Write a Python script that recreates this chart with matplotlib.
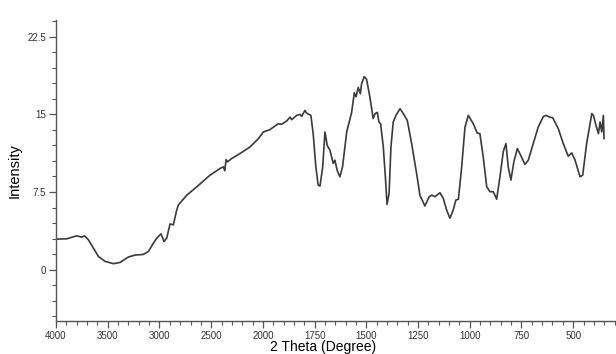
import numpy as np
import matplotlib.pyplot as plt
from matplotlib.ticker import FixedLocator, NullFormatter

# spectrum (x in cm-1 style units, descending)
wavenumber = [4000, 3897, 3800, 3751, 3726, 3687, 3639, 3591, 3526, 3446,
              3381, 3301, 3236, 3156, 3107, 3059, 3026, 2985, 2956, 2930,
              2898, 2866, 2833, 2817, 2736, 2640, 2511, 2414, 2382, 2369,
              2356, 2343, 2301, 2221, 2124, 2043, 1998, 1966, 1926, 1910,
              1885, 1869, 1861, 1837, 1821, 1813, 1797, 1789, 1778, 1768,
              1757, 1744, 1733, 1724, 1711, 1700, 1689, 1676, 1660, 1652,
              1641, 1628, 1615, 1595, 1571, 1558, 1550, 1539, 1529, 1523,
              1510, 1499, 1483, 1467, 1458, 1447, 1439, 1431, 1418, 1408,
              1400, 1390, 1381, 1370, 1357, 1337, 1321, 1302, 1281, 1257,
              1241, 1217, 1196, 1184, 1168, 1144, 1128, 1112, 1096, 1080,
              1067, 1055, 1039, 1023, 1007, 983, 964, 951, 935, 918,
              902, 886, 870, 854, 838, 825, 814, 801, 787, 770,
              754, 733, 717, 693, 669, 644, 631, 615, 599, 572,
              548, 524, 507, 491, 467, 454, 435, 410, 402, 390,
              378, 370, 362, 354, 351]
intensity = [2.95, 2.98, 3.27, 3.14, 3.27, 2.88, 2.08, 1.28, 0.80, 0.58,
             0.70, 1.22, 1.41, 1.47, 1.76, 2.56, 3.05, 3.46, 2.72, 3.05,
             4.42, 4.33, 5.77, 6.25, 7.20, 8.00, 9.13, 9.78, 9.93, 9.55,
             10.64, 10.42, 10.74, 11.22, 11.86, 12.66, 13.30, 13.53, 14.10, 14.04,
             14.36, 14.74, 14.49, 14.90, 15.00, 14.80, 15.38, 15.13, 15.00, 14.90,
             13.14, 9.93, 8.17, 8.08, 9.93, 13.30, 12.00, 11.54, 10.26, 10.58,
             9.60, 8.97, 9.93, 13.30, 15.20, 17.10, 16.70, 17.60, 17.00, 17.95,
             18.65, 18.40, 16.70, 14.60, 15.06, 15.20, 14.26, 14.10, 11.86, 8.97,
             6.30, 7.37, 11.86, 14.26, 14.90, 15.55, 15.07, 14.42, 12.18, 9.30,
             7.20, 6.15, 7.05, 7.20, 7.05, 7.43, 6.89, 5.77, 4.97, 5.77,
             6.73, 6.80, 9.93, 13.78, 14.90, 14.10, 13.20, 13.14, 10.90, 8.00,
             7.53, 7.53, 6.80, 8.97, 11.40, 12.18, 9.93, 8.65, 10.40, 11.70,
             11.06, 10.16, 10.58, 12.18, 13.78, 14.80, 14.90, 14.74, 14.68, 13.62,
             12.18, 10.96, 11.28, 10.58, 8.97, 9.13, 12.18, 15.07, 14.90, 13.94,
             13.14, 14.26, 13.30, 14.90, 12.66]

major_x = [4000, 3500, 3000, 2500, 2000, 1750, 1500, 1250, 1000, 750, 500]
major_y = [0, 7.5, 15, 22.5]


# below 2000 the axis is stretched twice (usual spectrometer layout)
def fwd(x):
    x = np.asarray(x, dtype=float)
    return np.where(x >= 2000, x, 2 * x - 2000)


def inv(u):
    u = np.asarray(u, dtype=float)
    return np.where(u >= 2000, u, (u + 2000) / 2)


plt.rcParams['font.family'] = ['Liberation Sans', 'DejaVu Sans']

fig = plt.figure(figsize=(6.16, 3.54), dpi=100)
ax = fig.add_axes([0.091, 0.092, 0.909, 0.851])

ax.plot(wavenumber, intensity, color='#3a3a3a', lw=1.2)

ax.set_xscale('function', functions=(fwd, inv))
ax.set_xlim(4000, 293)
ax.set_ylim(-5, 24.1)

ax.xaxis.set_major_locator(FixedLocator(major_x))
ax.xaxis.set_minor_locator(FixedLocator(list(range(3900, 2000, -100)) + list(range(1950, 293, -50))))
ax.xaxis.set_minor_formatter(NullFormatter())
ax.set_xticklabels([str(v) for v in major_x])

ax.yaxis.set_major_locator(FixedLocator(major_y))
ax.yaxis.set_minor_locator(FixedLocator(np.arange(-4.5, 24.1, 1.5)))
ax.set_yticklabels(['0', '7.5', '15', '22.5'])

for s in ['top', 'right']:
    ax.spines[s].set_visible(False)
for s in ['left', 'bottom']:
    ax.spines[s].set_color('#555555')
    ax.spines[s].set_linewidth(1.0)

ax.tick_params(which='major', length=5, width=0.9, color='#555555', labelsize=7, labelcolor='#333333', pad=2)
ax.tick_params(which='minor', length=3, width=0.8, color='#555555')

ax.set_xlabel('2 Theta (Degree)', fontsize=10)
ax.xaxis.set_label_coords(0.477, -0.062)
ax.set_ylabel('Intensity', fontsize=10.5, labelpad=4)

fig.savefig('out.png', dpi=100)
